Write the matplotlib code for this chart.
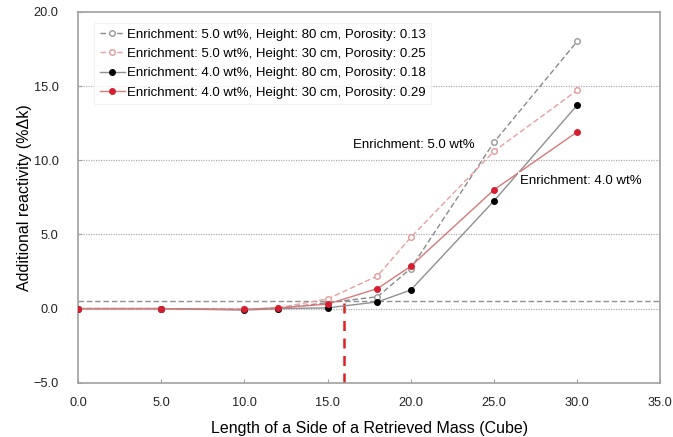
import matplotlib
matplotlib.use("Agg")
import matplotlib.pyplot as plt

plt.rcParams['font.family'] = ['Liberation Sans', 'DejaVu Sans']

x_vals = [0, 5, 10, 12, 15, 18, 20, 25, 30]
s1 = [0.0, 0.0, -0.05, 0.0, 0.4, 0.8, 2.7, 11.2, 18.0]   # 5.0 wt%, 80 cm, 0.13
s2 = [0.0, 0.0, -0.05, 0.05, 0.65, 2.2, 4.8, 10.6, 14.7]  # 5.0 wt%, 30 cm, 0.25
s3 = [0.0, 0.0, -0.1, 0.0, 0.05, 0.45, 1.25, 7.25, 13.7]  # 4.0 wt%, 80 cm, 0.18
s4 = [0.0, 0.0, -0.05, 0.05, 0.3, 1.35, 2.85, 8.0, 11.9]  # 4.0 wt%, 30 cm, 0.29
labels = [
    "Enrichment: 5.0 wt%, Height: 80 cm, Porosity: 0.13",
    "Enrichment: 5.0 wt%, Height: 30 cm, Porosity: 0.25",
    "Enrichment: 4.0 wt%, Height: 80 cm, Porosity: 0.18",
    "Enrichment: 4.0 wt%, Height: 30 cm, Porosity: 0.29",
]
xticks = [0, 5, 10, 15, 20, 25, 30, 35]
yticks = [-5, 0, 5, 10, 15, 20]
threshold = 0.5
critical_x = 16

fig = plt.figure(figsize=(6.73, 4.37), dpi=100)
ax = fig.add_axes([0.116, 0.124, 0.865, 0.849])

for yv in [0, 5, 10, 15]:
    ax.axhline(yv, color="#b0b0b0", lw=0.9, ls=(0, (1, 1)), zorder=1)
ax.axhline(threshold, color="#909090", lw=1.0, ls=(0, (4, 2)), zorder=1)
ax.plot([critical_x, critical_x], [-5, threshold], color="#e02020", lw=1.8,
        ls=(0, (4, 3)), zorder=2)

ax.plot(x_vals, s1, ls=(0, (4, 2)), color="#8a8a8a", lw=1.0, marker='o', ms=4,
        mfc='white', mec='#999999', mew=1.0, label=labels[0], zorder=3)
ax.plot(x_vals, s2, ls=(0, (4, 2)), color="#e8a0a0", lw=1.0, marker='o', ms=4,
        mfc='white', mec='#e29a9a', mew=1.0, label=labels[1], zorder=3)
ax.plot(x_vals, s3, ls='-', color="#8f8f8f", lw=1.0, marker='o', ms=4,
        mfc='black', mec='black', label=labels[2], zorder=4)
ax.plot(x_vals, s4, ls='-', color="#d87878", lw=1.0, marker='o', ms=4,
        mfc='#d42030', mec='#d42030', label=labels[3], zorder=4)

ax.set_xlim(0, 35)
ax.set_ylim(-5, 20)
ax.set_xticks(xticks)
ax.set_xticklabels([f"{v:.1f}" for v in xticks])
ax.set_yticks(yticks)
ax.set_yticklabels([f"{v:.1f}".replace("-", "\u2212") for v in yticks])
ax.tick_params(direction='in', length=3, color='#a0a0a0', labelsize=9.2,
               labelcolor='#222222')
ax.tick_params(axis='x', pad=10)
ax.tick_params(axis='y', pad=14)
for sp in ax.spines.values():
    sp.set_color('#a0a0a0')
    sp.set_linewidth(1.2)

ax.set_xlabel("Length of a Side of a Retrieved Mass (Cube)", fontsize=11.5, labelpad=9)
ax.set_ylabel("Additional reactivity (%\u0394k)", fontsize=11.5, labelpad=1)

leg = ax.legend(loc='upper left', bbox_to_anchor=(0.028, 0.969), fontsize=9.5,
                frameon=True, handlelength=1.9, handletextpad=0.2,
                labelspacing=0.53, borderpad=0.4, fancybox=False, borderaxespad=0)
leg.get_frame().set_edgecolor('#f0f0f0')
leg.get_frame().set_linewidth(0.8)
leg.set_zorder(5)

ax.text(16.5, 11.0, "Enrichment: 5.0 wt%", fontsize=9.5, va='center', ha='left',
        bbox=dict(facecolor='white', edgecolor='none', pad=2), zorder=5)
ax.text(26.6, 8.6, "Enrichment: 4.0 wt%", fontsize=9.5, va='center', ha='left',
        bbox=dict(facecolor='white', edgecolor='none', pad=2), zorder=5)

fig.savefig("out.png", dpi=100)
